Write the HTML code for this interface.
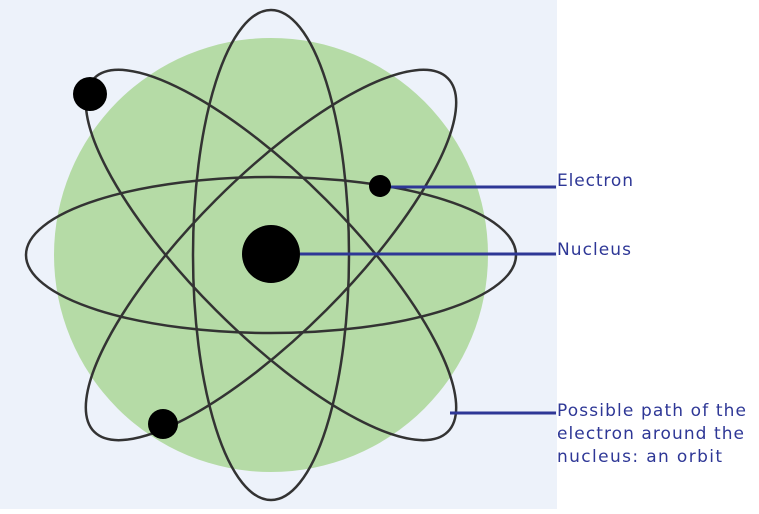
<!DOCTYPE html>
<html><head><style>body{margin:0;width:759px;height:509px;background:#fff;overflow:hidden}</style></head>
<body>
<svg width="759" height="509" viewBox="0 0 759 509" xmlns="http://www.w3.org/2000/svg">
<rect x="0" y="0" width="557" height="509" fill="#edf2fa"/>
<circle cx="271" cy="255" r="217" fill="#b5dba6"/>
<g fill="none" stroke="#333" stroke-width="2.5">
<ellipse cx="271" cy="255" rx="245" ry="78"/>
<ellipse cx="271" cy="255" rx="78" ry="245"/>
<ellipse cx="271" cy="255" rx="250" ry="78" transform="rotate(45 271 255)"/>
<ellipse cx="271" cy="255" rx="250" ry="78" transform="rotate(-45 271 255)"/>
</g>
<g stroke="#2e3796" stroke-width="3">
<line x1="300" y1="254" x2="556" y2="254"/>
<line x1="391" y1="187" x2="556" y2="187"/>
<line x1="450" y1="413" x2="556" y2="413"/>
</g>
<circle cx="271" cy="254" r="29" fill="#000"/>
<circle cx="90" cy="94" r="17" fill="#000"/>
<circle cx="380" cy="186" r="11" fill="#000"/>
<circle cx="163" cy="424" r="15" fill="#000"/>
<g font-family="DejaVu Sans, Liberation Sans, sans-serif" font-size="17" fill="#2e3796" lengthAdjust="spacing">
<text x="557" y="186" textLength="76">Electron</text>
<text x="557" y="255" textLength="74">Nucleus</text>
<text x="557" y="416" textLength="189">Possible path of the</text>
<text x="557" y="439" textLength="187">electron around the</text>
<text x="557" y="462" textLength="165">nucleus: an orbit</text>
</g>
</svg>
</body></html>
